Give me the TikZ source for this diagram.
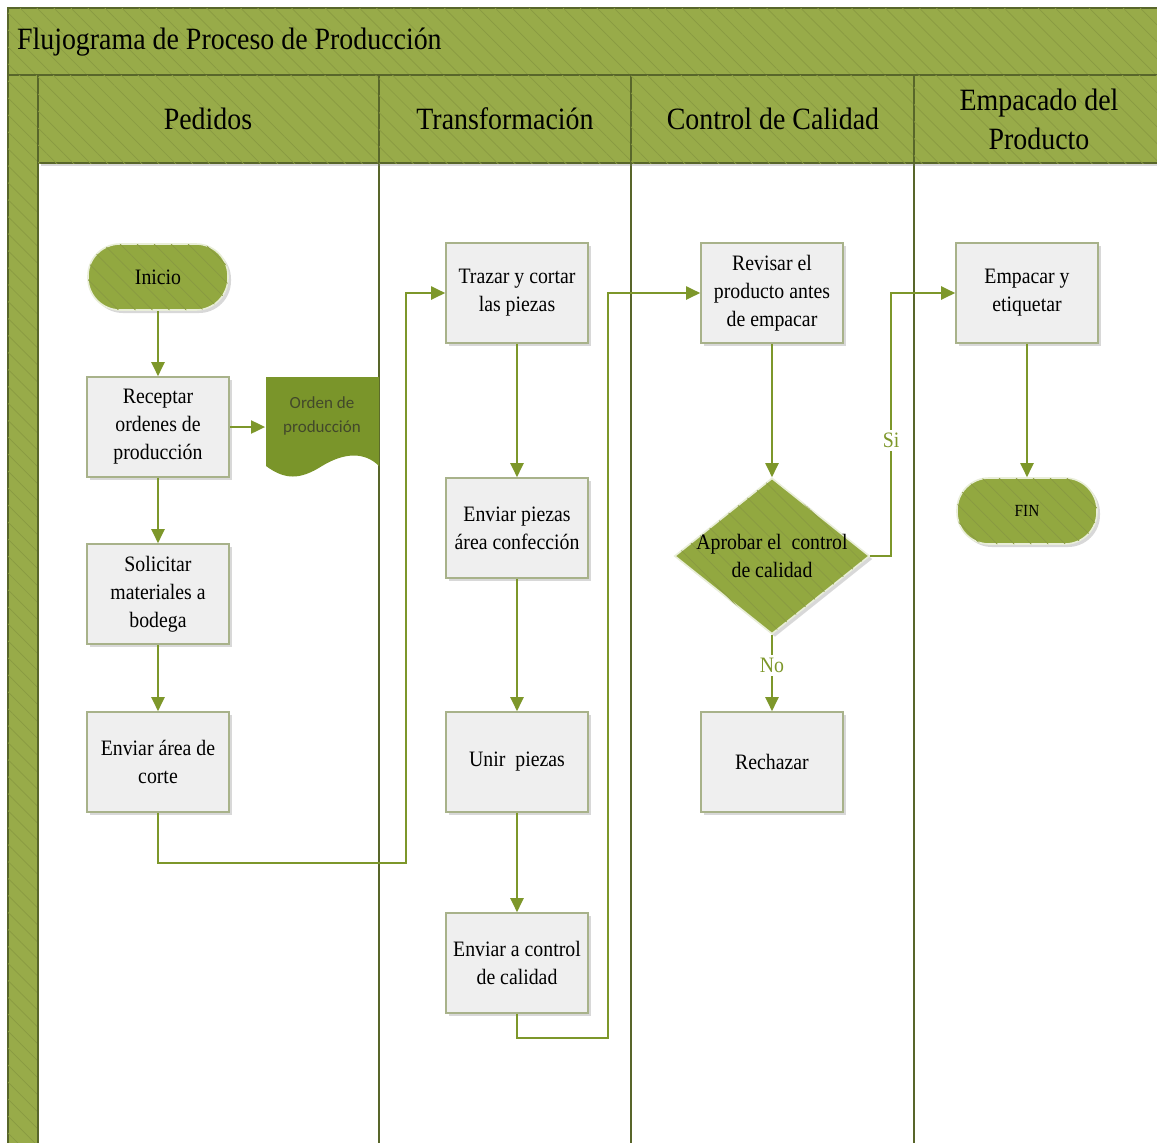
\documentclass[tikz,border=0pt]{standalone}
\usepackage{fontspec}
\setmainfont{Liberation Serif}[FakeStretch=0.9]
\newfontfamily\docfont{Carlito}
\usetikzlibrary{positioning,arrows.meta,shapes,shadows,calc,patterns.meta}
\definecolor{verdeCab}{RGB}{152,171,73}
\definecolor{verdeForma}{RGB}{146,168,64}
\definecolor{verdeDoc}{RGB}{122,149,42}
\definecolor{verdeFlecha}{RGB}{125,151,42}
\definecolor{lineaCarril}{RGB}{88,102,42}
\definecolor{bordeCaja}{RGB}{168,178,138}
\definecolor{fondoCaja}{RGB}{239,239,239}
\definecolor{textoDoc}{RGB}{66,72,42}
\tikzset{
  rayado/.style={postaction={pattern={Lines[angle=-45,distance=6pt,line width=.35pt]}, pattern color=verdeCab!90!black}},
  sombra/.style={drop shadow={opacity=.3,shadow xshift=1.5pt,shadow yshift=-1.5pt}}
}

\begin{document}
\begin{tikzpicture}[x=0.5pt,y=-0.5pt,
    carril/.style={draw=lineaCarril, line width=1pt},
    cabecera/.style={carril, fill=verdeCab, rayado},
    titulo/.style={font=\fontsize{15.5}{19.5}\selectfont, align=center},
    proceso/.style={rectangle, draw=bordeCaja, fill=fondoCaja, line width=.8pt,
        minimum width=71pt, minimum height=50pt, align=center,
        font=\fontsize{11}{14}\selectfont, sombra},
    terminal/.style={rectangle, rounded corners=16pt, fill=verdeForma, draw=white!80!verdeForma,
        line width=.8pt, minimum width=70pt, minimum height=33pt, sombra, rayado},
    decision/.style={diamond, fill=verdeForma, draw=white!80!verdeForma, line width=.8pt,
        minimum width=97.5pt, minimum height=78pt, inner sep=0pt, sombra, rayado},
    flecha/.style={draw=verdeFlecha, line width=1pt, -{Triangle[length=7pt,width=6.5pt]}},
    etiqueta/.style={fill=white, text=verdeFlecha, font=\fontsize{11}{13}\selectfont, inner sep=1.5pt}]

  \clip (0,0) rectangle (1157,1142);
  \fill[white] (0,0) rectangle (1157,1142);

  % piscina y carriles
  \draw[cabecera] (8,8) rectangle (1170,75);
  \draw[cabecera] (8,75) rectangle (38,1160);
  \draw[carril, fill=white] (38,163) rectangle (379,1160);
  \draw[carril, fill=white] (379,163) rectangle (631,1160);
  \draw[carril, fill=white] (631,163) rectangle (914,1160);
  \draw[carril, fill=white] (914,163) rectangle (1170,1160);
  \draw[cabecera, sombra] (38,75) rectangle (379,163);
  \draw[cabecera, sombra] (379,75) rectangle (631,163);
  \draw[cabecera, sombra] (631,75) rectangle (914,163);
  \draw[cabecera, sombra] (914,75) rectangle (1170,163);

  \node[titulo, anchor=west] (tFlujo) at (10,42) {Flujograma de Proceso de Producción};
  \node[titulo] (tPedidos) at (208,119) {Pedidos};
  \node[titulo] (tTransf) at (505,119) {Transformación};
  \node[titulo] (tCalidad) at (773,119) {Control de Calidad};
  \node[titulo] (tEmpaque) at (1039,119) {Empacado del\\Producto};

  % documento
  \fill[verdeDoc] (266,377) -- (379,377) -- (379,466)
      .. controls (365,452) and (345,452) .. (322,466)
      .. controls (300,480) and (285,480) .. (266,466) -- cycle;
  \node[minimum width=56.5pt, align=center, text=textoDoc, font=\docfont\fontsize{8.5}{12}\selectfont]
      (orden) at (322,416) {Orden de\\producción};

  % pedidos
  \node[terminal, font=\fontsize{11}{14}\selectfont] (inicio) at (158,277) {Inicio};
  \node[proceso] (receptar) at (158,427) {Receptar\\ordenes de\\producción};
  \node[proceso] (solicitar) at (158,594) {Solicitar\\materiales a\\bodega};
  \node[proceso] (enviarCorte) at (158,762) {Enviar área de\\corte};

  % transformacion
  \node[proceso] (trazar) at (517,293) {Trazar y cortar\\las piezas};
  \node[proceso] (enviarPiezas) at (517,528) {Enviar piezas\\área confección};
  \node[proceso] (unir) at (517,762) {Unir\ \ piezas};
  \node[proceso] (enviarControl) at (517,963) {Enviar a control\\de calidad};

  % calidad
  \node[proceso] (revisar) at (772,293) {Revisar el\\producto antes\\de empacar};
  \node[decision] (aprobar) at (772,556) {};
  \node[align=center, font=\fontsize{11}{14}\selectfont] (aprobarTxt) at (772,556) {Aprobar el\ \ control\\de calidad};
  \node[proceso] (rechazar) at (772,762) {Rechazar};

  % empaque
  \node[proceso] (empacar) at (1027,293) {Empacar y\\etiquetar};
  \node[terminal, font=\fontsize{8.5}{10}\selectfont] (fin) at (1027,511) {FIN};

  % conectores
  \draw[flecha] (inicio) -- (receptar);
  \draw[flecha] (receptar) -- (receptar -| orden.west);
  \draw[flecha] (receptar) -- (solicitar);
  \draw[flecha] (solicitar) -- (enviarCorte);
  \draw[flecha] (enviarCorte.south) -- ++(0,50) -| ([xshift=-19.5pt]trazar.west) -- (trazar.west);
  \draw[flecha] (trazar) -- (enviarPiezas);
  \draw[flecha] (enviarPiezas) -- (unir);
  \draw[flecha] (unir) -- (enviarControl);
  \draw[flecha] (enviarControl.south) -- ++(0,24) -| ([xshift=-46pt]revisar.west) -- (revisar.west);
  \draw[flecha] (revisar) -- (aprobar);
  \draw[flecha] (aprobar.east) -| node[etiqueta, pos=.72] (si) {Si} ([xshift=-32pt]empacar.west) -- (empacar.west);
  \draw[flecha] (aprobar.south) -- node[etiqueta, pos=.4] (no) {No} (rechazar.north);
  \draw[flecha] (empacar) -- (fin);
\end{tikzpicture}
\end{document}
